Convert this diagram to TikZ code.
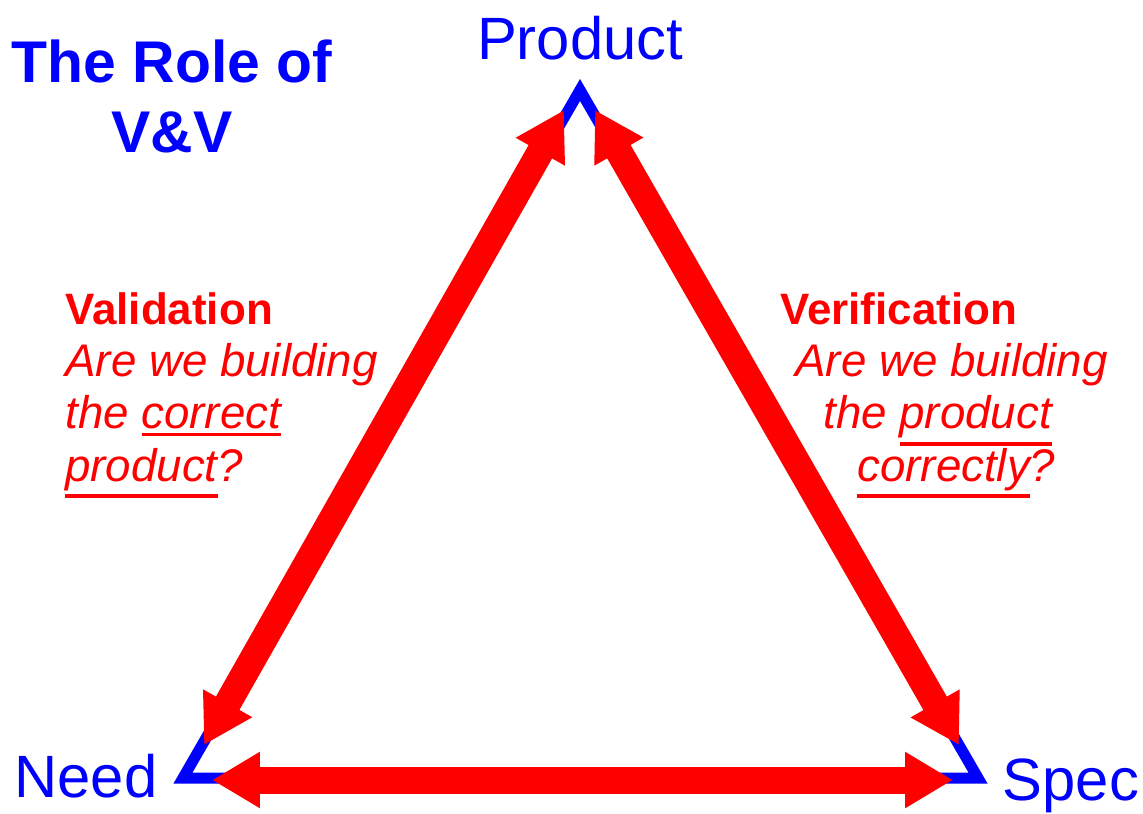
\documentclass[tikz,border=0pt]{standalone}
\usepackage{fontspec}
\setmainfont{Liberation Sans}
\usepackage{xcolor}
\usetikzlibrary{arrows.meta}
\usetikzlibrary{positioning}
\newcommand\undr[1]{\setbox0\hbox{#1}\rlap{\rule[\dimexpr-\dp0-4pt\relax]{\wd0}{2pt}}\box0}
\newcommand\qtext[1]{{\itshape\fontsize{26}{29.6}\selectfont #1}}
\tikzstyle{corner} = [text=blue, font=\fontsize{34}{40}\selectfont, inner sep=0pt]
\tikzstyle{title} = [text=blue, font=\bfseries\fontsize{33.5}{40}\selectfont,
                     align=center, inner sep=0pt]
\tikzstyle{question} = [text=red, font=\fontsize{25}{29.6}\selectfont,
                        align=left, inner sep=0pt]
\tikzstyle{side} = [draw=blue, line width=0.22cm, miter limit=10]
\tikzstyle{line} = [draw=red, line width=0.54cm,
    {Triangle[length=0.96cm,width=1.06cm]}-{Triangle[length=0.96cm,width=1.06cm]}]

\begin{document}
\begin{tikzpicture}[x=0.02cm, y=-0.02cm]
  \useasboundingbox (0,0) rectangle (1143,814);
  % Place nodes
  \coordinate (top) at (580,90);
  \coordinate (left) at (183,778);
  \coordinate (right) at (978,778);
  \node [corner, anchor=base] (product) at (580,60) {Product};
  \node [corner, anchor=base] (need) at (86,797) {Need};
  \node [corner, anchor=base] (spec) at (1071,800) {Spec};
  \node [title, anchor=base] (title) at (172,153) {The Role of\\V\&V};
  \node [question, anchor=base west] (valid) at (65,481)
    {\textbf{Validation}\\
     \qtext{Are we building}\\
     \qtext{the \undr{correct}}\\
     \qtext{\undr{product}?}};
  \node [question, anchor=base west] (verif) at (780,481)
    {\textbf{Verification}\\
     \hspace*{0.3cm}\qtext{Are we building}\\
     \hspace*{0.86cm}\qtext{the \undr{product}}\\
     \hspace*{1.54cm}\qtext{\undr{correctly}?}};
  % Arrow ends
  \coordinate (valtop) at (564,110);
  \coordinate (valbot) at (204,745);
  \coordinate (vertop) at (595,110);
  \coordinate (verbot) at (959,745);
  \coordinate (basel) at (212,780);
  \coordinate (baser) at (953,780);
  % Draw edges
  \path [side] (top) -- (left) -- (right) -- cycle;
  \path [line] (valbot) -- (valtop);
  \path [line] (vertop) -- (verbot);
  \path [line] (basel) -- (baser);
\end{tikzpicture}
\end{document}
